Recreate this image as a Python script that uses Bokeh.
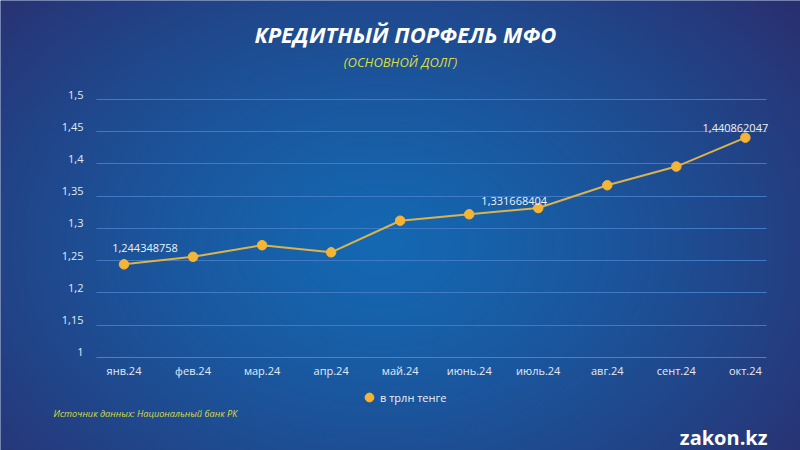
import numpy as np
from bokeh.plotting import figure
from bokeh.models import (Range1d, FixedTicker, LinearAxis, Label, Legend,
                          LegendItem, Grid)
from bokeh.core.properties import value
from bokeh.embed import file_html
from bokeh.resources import INLINE

# ---------------- data ----------------
months = ["янв.24", "фев.24", "мар.24", "апр.24", "май.24",
          "июнь.24", "июль.24", "авг.24", "сент.24", "окт.24"]
portfolio = [1.244348758, 1.256, 1.274, 1.263, 1.312,
             1.322, 1.331668404, 1.367, 1.396, 1.440862047]
y_ticks = [1.1, 1.15, 1.2, 1.25, 1.3, 1.35, 1.4, 1.45, 1.5]
y_tick_labels = ["1", "1,15", "1,2", "1,25", "1,3", "1,35", "1,4", "1,45", "1,5"]
labelled_months = ["янв.24", "июль.24", "окт.24"]
series_name = "в трлн тенге"
title_text = "КРЕДИТНЫЙ ПОРФЕЛЬ МФО"
subtitle_text = "(ОСНОВНОЙ ДОЛГ)"
source_text = "Источник данных: Национальный банк РК"
brand_text = "zakon.kz"

# ---------------- geometry (pixels) ----------------
W, H = 800, 450
X0_PX = 123.5          # pixel x of first category
PX_PER_CAT = 69.04
TOP_PX = 99.0          # pixel y of top tick
PX_PER_UNIT = 644.8
LABEL_SHIFT_PX = 5.0   # tick labels sit a little above their lines

xs = list(range(len(months)))
x_start = -X0_PX / PX_PER_CAT
x_end = (W - X0_PX) / PX_PER_CAT
y_top = y_ticks[-1]
y_start = y_top - (H - TOP_PX) / PX_PER_UNIT
y_end = y_top + TOP_PX / PX_PER_UNIT


def px_to_x(px):
    return (px - X0_PX) / PX_PER_CAT


p = figure(width=W, height=H, x_range=Range1d(x_start, x_end),
           y_range=Range1d(y_start, y_end), output_backend="svg",
           toolbar_location=None, x_axis_type=None, y_axis_type=None,
           min_border=0, outline_line_color=None,
           background_fill_color="#1d3f88", border_fill_color="#1d3f88")
shift = LABEL_SHIFT_PX / PX_PER_UNIT
p.extra_y_ranges = {"lab": Range1d(y_start - shift, y_end - shift)}

# ---------------- background gradient ----------------
GW, GH = 400, 225
jj, ii = np.meshgrid(np.arange(GW), np.arange(GH))
gx = (jj + 0.5) * W / GW
gy = (ii + 0.5) * H / GH
cx, cy, rx, ry = 380.0, 245.0, 560.0, 400.0
d = np.sqrt(((gx - cx) / rx) ** 2 + ((gy - cy) / ry) ** 2)
t = np.clip(d, 0, 1) ** 1.3
c0 = np.array([20, 104, 178], dtype=float)
c1 = np.array([43, 44, 108], dtype=float)
rgb = c0[None, None, :] * (1 - t[..., None]) + c1[None, None, :] * t[..., None]
rgb = np.flipud(rgb).astype(np.uint32)
img = (255 << 24) | (rgb[..., 2] << 16) | (rgb[..., 1] << 8) | rgb[..., 0]
img = img.astype(np.uint32)
bg = p.image_rgba(image=[img], x=x_start, y=y_start, dw=x_end - x_start,
                  dh=y_end - y_start)
bg.level = "image"

# ---------------- grid ----------------
grid_kwargs = {}
if "cross_bounds" in Grid.properties():
    grid_kwargs["cross_bounds"] = (px_to_x(96), px_to_x(766))
grid = Grid(dimension=1, ticker=FixedTicker(ticks=y_ticks[1:]),
            grid_line_color="#4079c4", grid_line_width=1, **grid_kwargs)
p.add_layout(grid)

# ---------------- axes ----------------
xaxis = LinearAxis(ticker=FixedTicker(ticks=xs),
                   major_label_overrides={i: m for i, m in zip(xs, months)},
                   fixed_location=y_ticks[0],
                   bounds=(px_to_x(96), px_to_x(766)),
                   axis_line_color="#4a82c8", axis_line_width=1,
                   major_tick_line_color=None, minor_tick_line_color=None,
                   major_tick_in=0, major_tick_out=0,
                   major_label_standoff=6,
                   major_label_text_font="Open Sans",
                   major_label_text_font_size="11px",
                   major_label_text_color="#e4eaf4")
p.add_layout(xaxis, "below")

yaxis = LinearAxis(y_range_name="lab",
                   ticker=FixedTicker(ticks=y_ticks),
                   major_label_overrides={v: s for v, s in zip(y_ticks, y_tick_labels)},
                   fixed_location=px_to_x(96),
                   axis_line_color=None,
                   major_tick_line_color=None, minor_tick_line_color=None,
                   major_tick_in=0, major_tick_out=0,
                   major_label_standoff=13,
                   major_label_text_font="Open Sans",
                   major_label_text_font_size="11px",
                   major_label_text_color="#e4eaf4")
p.add_layout(yaxis, "left")

# ---------------- series ----------------
p.line(xs, portfolio, line_color="#dcb24a", line_width=2)
pts = p.scatter(xs, portfolio, size=9.5, fill_color="#f6b434",
                line_color="#f6b434")

lab_idx = [months.index(m) for m in labelled_months]
lab_x = [xs[i] for i in lab_idx]
lab_y = [portfolio[i] for i in lab_idx]
lab_txt = [f"{portfolio[i]:.9f}".replace(".", ",") for i in lab_idx]
p.text(x=lab_x, y=lab_y, text=lab_txt,
       x_offset=[21, -24, -10], y_offset=[-16, -7, -10],
       text_align="center", text_baseline="middle",
       text_font=value("Open Sans"), text_font_size="11px",
       text_color="#eef2f8")

# ---------------- legend ----------------
legend = Legend(items=[LegendItem(label=series_name, renderers=[pts])],
                location=(358, 42), orientation="horizontal",
                background_fill_alpha=0, border_line_color=None,
                padding=0, margin=0, spacing=0,
                glyph_width=22, glyph_height=22, label_height=22,
                label_standoff=0,
                label_text_font="Open Sans", label_text_font_size="11px",
                label_text_color="#eef2f8")
p.add_layout(legend)

# ---------------- texts ----------------
p.add_layout(Label(x=405, y=H - 33, x_units="screen", y_units="screen",
                   text=title_text, text_align="center", text_baseline="middle",
                   text_font="Open Sans", text_font_style="bold italic",
                   text_font_size="22px", text_color="#ffffff"))
p.add_layout(Label(x=400, y=H - 61.5, x_units="screen", y_units="screen",
                   text=subtitle_text, text_align="center", text_baseline="middle",
                   text_font="Open Sans", text_font_style="italic",
                   text_font_size="13px", text_color="#d9de3c"))
p.add_layout(Label(x=53, y=H - 413, x_units="screen", y_units="screen",
                   text=source_text, text_align="left", text_baseline="middle",
                   text_font="Open Sans", text_font_style="italic",
                   text_font_size="9.2px", text_color="#d9de3c"))
p.add_layout(Label(x=767, y=H - 437, x_units="screen", y_units="screen",
                   text=brand_text, text_align="right", text_baseline="alphabetic",
                   text_font="Open Sans", text_font_style="bold",
                   text_font_size="20px", text_color="#ffffff"))

open("out.html", "w").write(file_html(p, INLINE))
